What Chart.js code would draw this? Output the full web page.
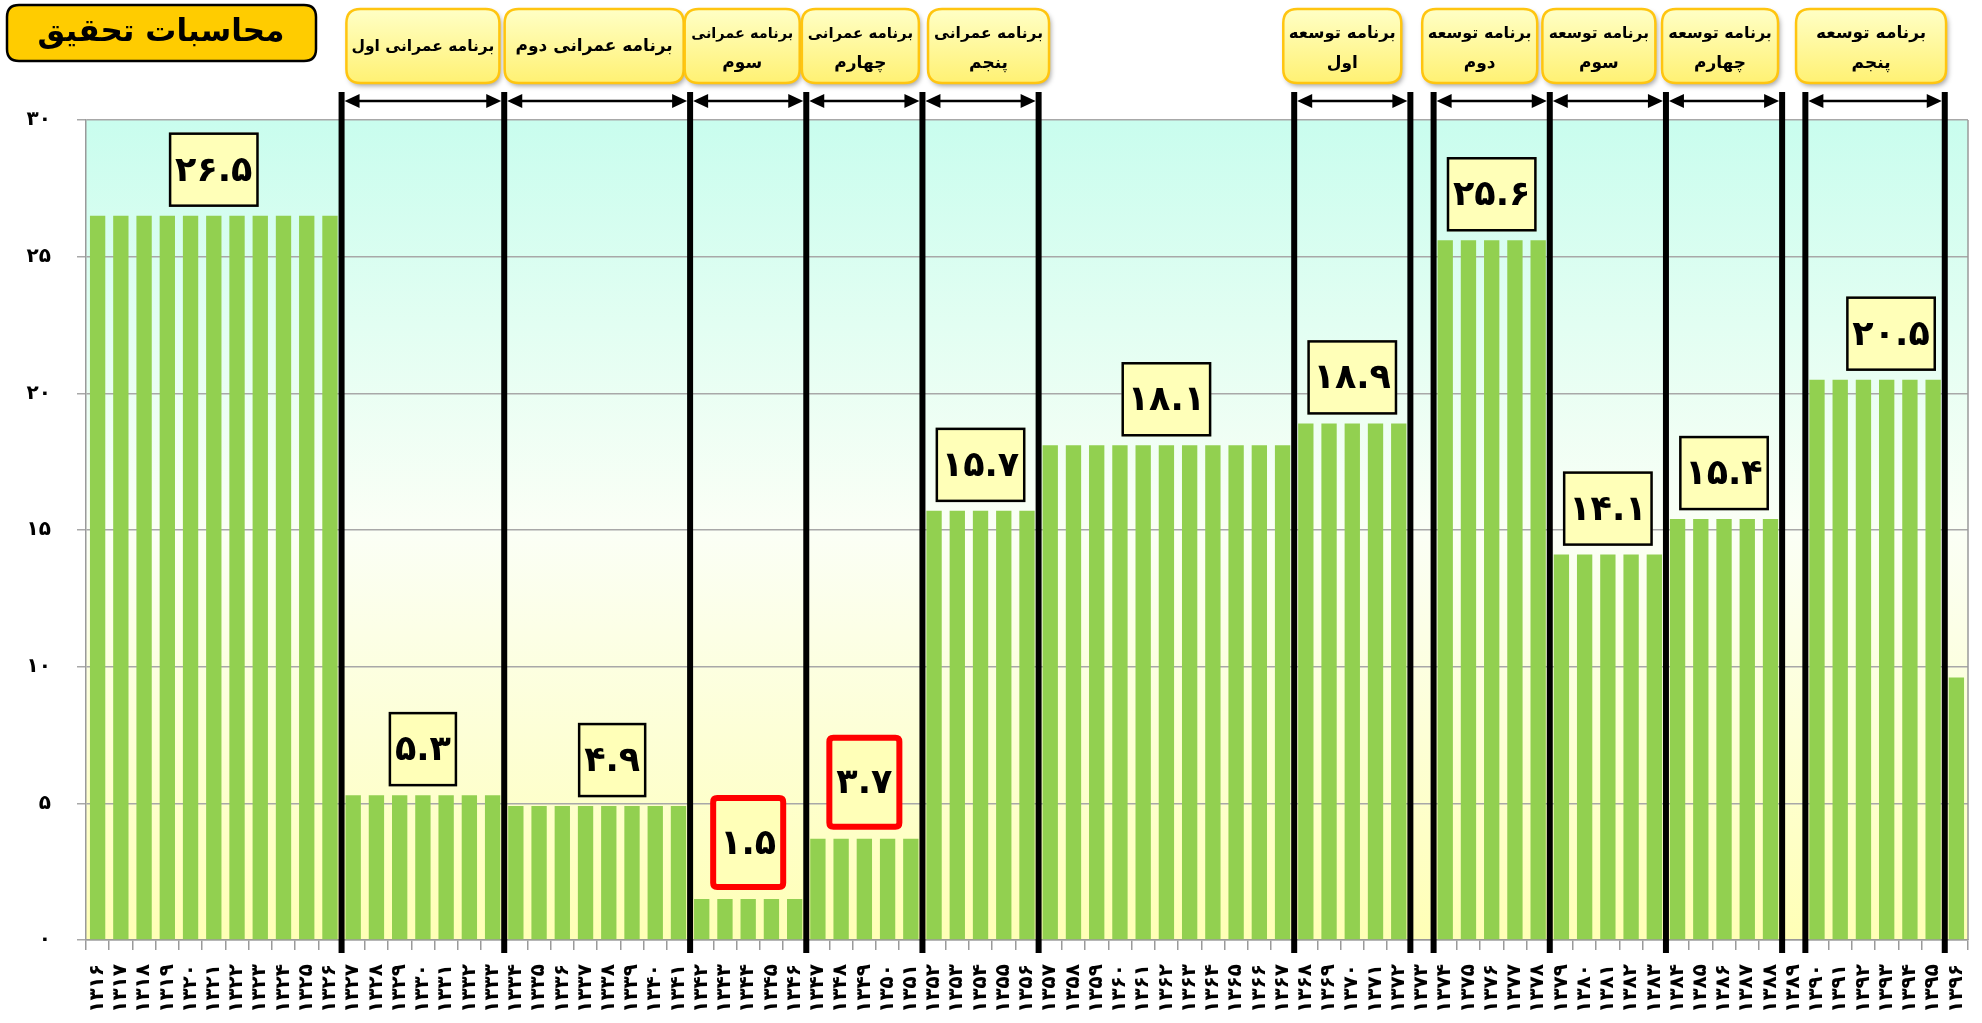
<!DOCTYPE html>
<html><head><meta charset="utf-8">
<script src="https://cdn.jsdelivr.net/npm/chart.js@4.4.1/dist/chart.umd.min.js"></script>
<style>html,body{margin:0;padding:0;background:#fff;}canvas{display:block;}</style>
</head><body>
<canvas id="c" width="1982" height="1023"></canvas>
<script>
// ---------- DATA ----------
const years = [
 '۱۳۱۶','۱۳۱۷','۱۳۱۸','۱۳۱۹','۱۳۲۰','۱۳۲۱','۱۳۲۲','۱۳۲۳','۱۳۲۴','۱۳۲۵','۱۳۲۶',
 '۱۳۲۷','۱۳۲۸','۱۳۲۹','۱۳۳۰','۱۳۳۱','۱۳۳۲','۱۳۳۳',
 '۱۳۳۴','۱۳۳۵','۱۳۳۶','۱۳۳۷','۱۳۳۸','۱۳۳۹','۱۳۴۰','۱۳۴۱',
 '۱۳۴۲','۱۳۴۳','۱۳۴۴','۱۳۴۵','۱۳۴۶',
 '۱۳۴۷','۱۳۴۸','۱۳۴۹','۱۳۵۰','۱۳۵۱',
 '۱۳۵۲','۱۳۵۳','۱۳۵۴','۱۳۵۵','۱۳۵۶',
 '۱۳۵۷','۱۳۵۸','۱۳۵۹','۱۳۶۰','۱۳۶۱','۱۳۶۲','۱۳۶۳','۱۳۶۴','۱۳۶۵','۱۳۶۶','۱۳۶۷',
 '۱۳۶۸','۱۳۶۹','۱۳۷۰','۱۳۷۱','۱۳۷۲',
 '۱۳۷۳',
 '۱۳۷۴','۱۳۷۵','۱۳۷۶','۱۳۷۷','۱۳۷۸',
 '۱۳۷۹','۱۳۸۰','۱۳۸۱','۱۳۸۲','۱۳۸۳',
 '۱۳۸۴','۱۳۸۵','۱۳۸۶','۱۳۸۷','۱۳۸۸',
 '۱۳۸۹',
 '۱۳۹۰','۱۳۹۱','۱۳۹۲','۱۳۹۳','۱۳۹۴','۱۳۹۵',
 '۱۳۹۶'
];
const values = [
 26.5,26.5,26.5,26.5,26.5,26.5,26.5,26.5,26.5,26.5,26.5,
 5.3,5.3,5.3,5.3,5.3,5.3,5.3,
 4.9,4.9,4.9,4.9,4.9,4.9,4.9,4.9,
 1.5,1.5,1.5,1.5,1.5,
 3.7,3.7,3.7,3.7,3.7,
 15.7,15.7,15.7,15.7,15.7,
 18.1,18.1,18.1,18.1,18.1,18.1,18.1,18.1,18.1,18.1,18.1,
 18.9,18.9,18.9,18.9,18.9,
 null,
 25.6,25.6,25.6,25.6,25.6,
 14.1,14.1,14.1,14.1,14.1,
 15.4,15.4,15.4,15.4,15.4,
 null,
 20.5,20.5,20.5,20.5,20.5,20.5,
 9.6
];
const yTickValues = [0,5,10,15,20,25,30];

// period averages shown in boxes
const periodValues = [26.5,5.3,4.9,1.5,3.7,15.7,18.1,18.9,25.6,14.1,15.4,20.5];
const periodFrom = ['۱۳۱۶','۱۳۲۷','۱۳۳۴','۱۳۴۲','۱۳۴۷','۱۳۵۲','۱۳۵۷','۱۳۶۸','۱۳۷۴','۱۳۷۹','۱۳۸۴','۱۳۹۰'];
const periodTo   = ['۱۳۲۷','۱۳۳۴','۱۳۴۲','۱۳۴۷','۱۳۵۲','۱۳۵۷','۱۳۶۸','۱۳۷۳','۱۳۷۹','۱۳۸۴','۱۳۸۹','۱۳۹۶'];
const highlightedPeriods = [3,4];

// development programs
const programNames = [
 'برنامه عمرانی اول','برنامه عمرانی دوم','برنامه عمرانی\nسوم','برنامه عمرانی\nچهارم','برنامه عمرانی\nپنجم',
 'برنامه توسعه\nاول','برنامه توسعه\nدوم','برنامه توسعه\nسوم','برنامه توسعه\nچهارم','برنامه توسعه\nپنجم'
];
const programStart = ['۱۳۲۷','۱۳۳۴','۱۳۴۲','۱۳۴۷','۱۳۵۲','۱۳۶۸','۱۳۷۴','۱۳۷۹','۱۳۸۴','۱۳۹۰'];
const programEnd   = ['۱۳۳۴','۱۳۴۲','۱۳۴۷','۱۳۵۲','۱۳۵۷','۱۳۷۳','۱۳۷۹','۱۳۸۴','۱۳۸۹','۱۳۹۶'];
const titleText = 'محاسبات تحقیق';

// ---------- STYLE ----------
const FONT = "'DejaVu Sans', sans-serif";
const faDigits = '۰۱۲۳۴۵۶۷۸۹';
const toFa = s => String(s).replace(/[0-9]/g, d => faDigits[d]);
const periodDx = [0,0,15,0,0,0,0,0,0,0,0,16];
const progBoxW = [153,179,115,117,121,118,115,113,116,150];
const progBoxDx = [0,-3,-6,-4,8,-10,-12,-9,-4,-4];

function roundRect(ctx, x, y, w, h, r) {
  ctx.beginPath();
  ctx.moveTo(x + r, y);
  ctx.lineTo(x + w - r, y); ctx.quadraticCurveTo(x + w, y, x + w, y + r);
  ctx.lineTo(x + w, y + h - r); ctx.quadraticCurveTo(x + w, y + h, x + w - r, y + h);
  ctx.lineTo(x + r, y + h); ctx.quadraticCurveTo(x, y + h, x, y + h - r);
  ctx.lineTo(x, y + r); ctx.quadraticCurveTo(x, y, x + r, y);
  ctx.closePath();
}

const bgPlugin = {
  id: 'bg',
  beforeDraw(chart) {
    const {ctx, chartArea: a} = chart;
    ctx.save();
    ctx.fillStyle = '#fff';
    ctx.fillRect(0, 0, chart.width, chart.height);
    const g = ctx.createLinearGradient(0, a.top, 0, a.bottom);
    g.addColorStop(0, '#C9FDEE');
    g.addColorStop(0.5, '#FBFFF6');
    g.addColorStop(1, '#FFFFB6');
    ctx.fillStyle = g;
    ctx.fillRect(a.left, a.top, a.right - a.left, a.bottom - a.top);
    ctx.restore();
  }
};

const overlayPlugin = {
  id: 'overlay',
  afterDraw(chart) {
    const {ctx, chartArea: a} = chart;
    const xs = chart.scales.x, ys = chart.scales.y;
    const half = (xs.getPixelForValue(1) - xs.getPixelForValue(0)) / 2;
    const edge = yr => xs.getPixelForValue(years.indexOf(yr)) - half;
    ctx.save();

    // right border of plot
    ctx.strokeStyle = '#9a9a9a'; ctx.lineWidth = 1.5;
    ctx.beginPath(); ctx.moveTo(a.right, a.top); ctx.lineTo(a.right, a.bottom); ctx.stroke();

    // vertical program lines
    const bounds = [...new Set([...programStart, ...programEnd])];
    ctx.strokeStyle = '#000'; ctx.lineWidth = 6;
    bounds.forEach(yr => {
      const x = edge(yr);
      ctx.beginPath(); ctx.moveTo(x, 92); ctx.lineTo(x, 953); ctx.stroke();
    });

    // arrows
    const ay = 101;
    programStart.forEach((s, i) => {
      const x1 = edge(s) + 3, x2 = edge(programEnd[i]) - 3;
      ctx.strokeStyle = '#000'; ctx.lineWidth = 2.5;
      ctx.beginPath(); ctx.moveTo(x1 + 10, ay); ctx.lineTo(x2 - 10, ay); ctx.stroke();
      ctx.fillStyle = '#000';
      ctx.beginPath(); ctx.moveTo(x1, ay); ctx.lineTo(x1 + 15, ay - 7); ctx.lineTo(x1 + 15, ay + 7); ctx.closePath(); ctx.fill();
      ctx.beginPath(); ctx.moveTo(x2, ay); ctx.lineTo(x2 - 15, ay - 7); ctx.lineTo(x2 - 15, ay + 7); ctx.closePath(); ctx.fill();
    });

    // period value boxes
    ctx.textAlign = 'center'; ctx.textBaseline = 'middle';
    periodValues.forEach((v, i) => {
      const cx = (edge(periodFrom[i]) + edge(periodTo[i])) / 2 + periodDx[i];
      const txt = toFa(v.toFixed(1));
      ctx.font = `bold 35px ${FONT}`;
      const tw = ctx.measureText(txt).width;
      const red = highlightedPeriods.includes(i);
      const h = red ? 95 : 74;
      const w = tw + (red ? 20 : 12);
      const bottom = ys.getPixelForValue(v) - 9;
      const top = bottom - h;
      if (red) {
        ctx.fillStyle = '#FFFFB8';
        roundRect(ctx, cx - w / 2 + 3, top + 3, w - 6, h - 6, 4);
        ctx.fill();
        ctx.strokeStyle = '#FF0000'; ctx.lineWidth = 6; ctx.stroke();
      } else {
        ctx.fillStyle = '#FFFFB8';
        ctx.fillRect(cx - w / 2, top, w, h);
        ctx.strokeStyle = '#000'; ctx.lineWidth = 2.5;
        ctx.strokeRect(cx - w / 2 + 1, top + 1, w - 2, h - 2);
      }
      ctx.fillStyle = '#000';
      ctx.fillText(txt, cx, top + h / 2 + 2);
    });

    // program name boxes
    programNames.forEach((name, i) => {
      const cx = (edge(programStart[i]) + edge(programEnd[i])) / 2 + progBoxDx[i];
      const w = progBoxW[i], x = cx - w / 2, y = 9, h = 74;
      ctx.save();
      ctx.shadowColor = 'rgba(0,0,0,0.35)'; ctx.shadowBlur = 5; ctx.shadowOffsetX = 2; ctx.shadowOffsetY = 3;
      const g = ctx.createLinearGradient(0, y, 0, y + h);
      g.addColorStop(0, '#FFFFC6'); g.addColorStop(1, '#FFF173');
      ctx.fillStyle = g;
      roundRect(ctx, x, y, w, h, 14);
      ctx.fill();
      ctx.restore();
      ctx.strokeStyle = '#FFC510'; ctx.lineWidth = 2.5;
      roundRect(ctx, x, y, w, h, 14); ctx.stroke();
      const lines = name.split('\n');
      ctx.fillStyle = '#000'; ctx.textAlign = 'center'; ctx.textBaseline = 'middle';
      ctx.direction = 'rtl';
      lines.forEach((ln, j) => {
        let fs = 17;
        ctx.font = `bold ${fs}px ${FONT}`;
        while (ctx.measureText(ln).width > w - 10 && fs > 10) { fs -= 0.5; ctx.font = `bold ${fs}px ${FONT}`; }
        const ty = lines.length === 1 ? y + h / 2 + 1 : y + 25 + j * 30;
        ctx.fillText(ln, cx, ty);
      });
      ctx.direction = 'ltr';
    });

    // title box
    ctx.fillStyle = '#FFCC00';
    roundRect(ctx, 7, 5, 309, 56, 12); ctx.fill();
    ctx.strokeStyle = '#000'; ctx.lineWidth = 2.5; ctx.stroke();
    let fs = 38;
    ctx.font = `bold ${fs}px ${FONT}`;
    while (ctx.measureText(titleText).width > 250 && fs > 16) { fs -= 1; ctx.font = `bold ${fs}px ${FONT}`; }
    ctx.fillStyle = '#000'; ctx.direction = 'rtl';
    ctx.fillText(titleText, 161, 33);
    ctx.restore();
  }
};

new Chart(document.getElementById('c'), {
  type: 'bar',
  data: {
    labels: years,
    datasets: [{ data: values, backgroundColor: '#92D050', barPercentage: 0.66, categoryPercentage: 1 }]
  },
  options: {
    responsive: false, animation: false, devicePixelRatio: 1,
    layout: { padding: { top: 120, right: 14, left: 0, bottom: 0 } },
    plugins: { legend: { display: false }, tooltip: { enabled: false } },
    scales: {
      x: {
        grid: { offset: true, drawOnChartArea: false, drawTicks: true, tickLength: 10, color: '#9a9a9a', lineWidth: 1.5 },
        border: { display: true, color: '#9a9a9a', width: 1.5 },
        ticks: { autoSkip: false, minRotation: 90, maxRotation: 90, padding: 14, color: '#000',
                 font: { family: FONT, size: 20, weight: 'bold' } },
        afterFit: s => { s.height = 83; s.paddingLeft = 0; s.paddingRight = 0; }
      },
      y: {
        min: 0, max: 30,
        afterBuildTicks: s => { s.ticks = yTickValues.map(v => ({ value: v })); },
        ticks: { padding: 26, color: '#000', font: { family: FONT, size: 20, weight: 'bold' }, callback: v => toFa(v) },
        grid: { color: '#a8a8a8', lineWidth: 1.5, tickLength: 9 },
        border: { color: '#9a9a9a', width: 1.5 },
        afterFit: s => { s.width = 86; s.paddingTop = 0; s.paddingBottom = 0; }
      }
    }
  },
  plugins: [bgPlugin, overlayPlugin]
});
</script>
</body></html>
